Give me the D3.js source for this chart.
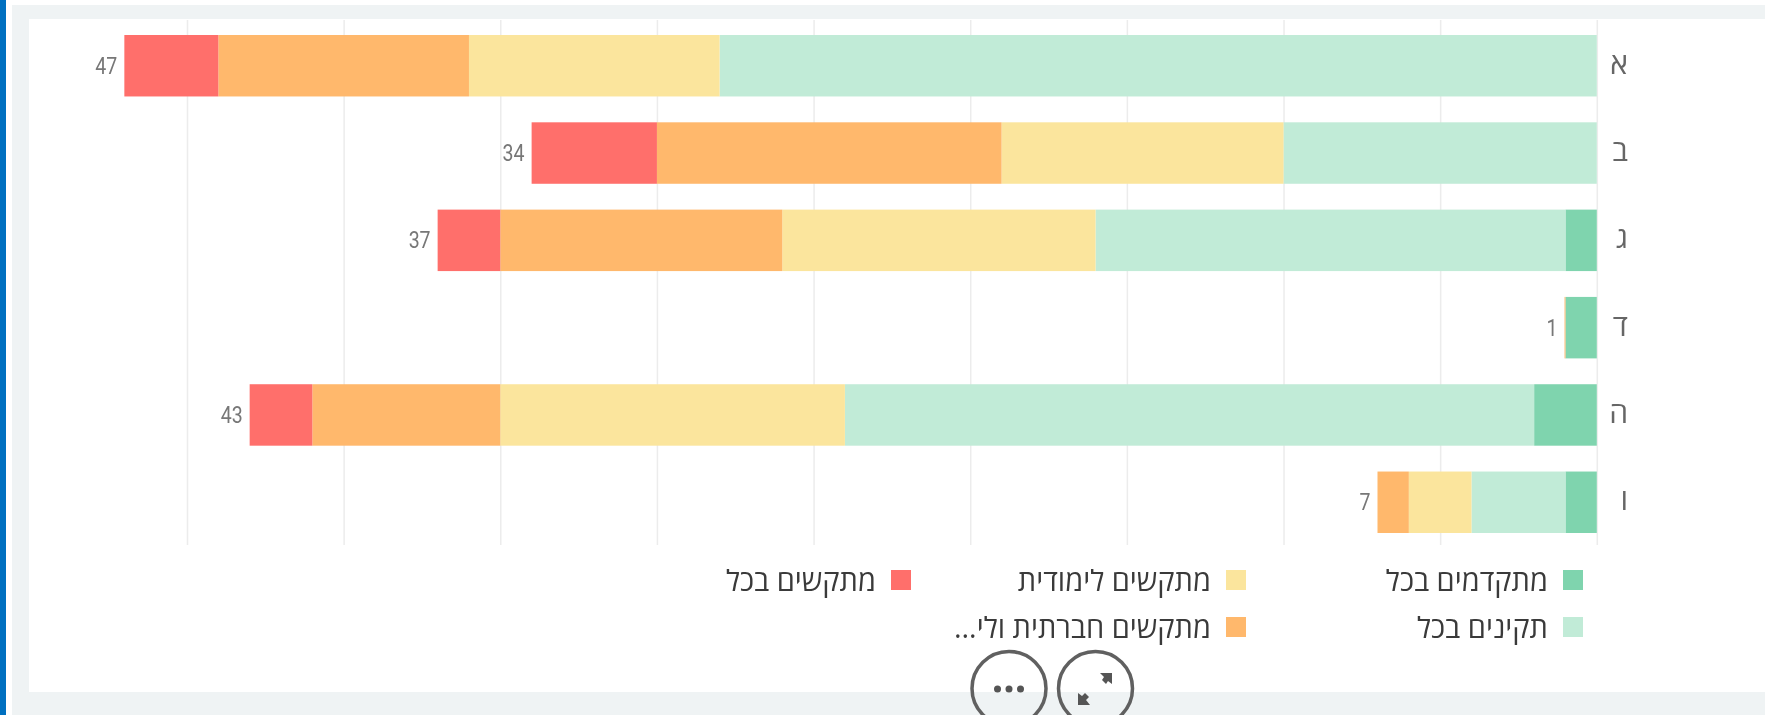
<!DOCTYPE html>
<html lang="he">
<head>
<meta charset="utf-8">
<script src="https://cdn.jsdelivr.net/npm/d3@7"></script>
<style>
  html, body { margin: 0; padding: 0; background: #fff; overflow: hidden; }
  #svg { display: block; width: 1765px; height: 715px; filter: blur(0.5px); }
  .grid line { stroke: #ececec; stroke-width: 1.5; }
  .grid path { display: none; }
  .cat text { font-family: "Open Sans", sans-serif; font-size: 30px; fill: #666; }
  .total { font-family: "Roboto", sans-serif; font-size: 23px; fill: #777; }
  .legend text { font-family: "Open Sans", sans-serif; font-size: 29px; fill: #3a3a3a; }
</style>
</head>
<body>
<svg id="svg" width="1765" height="715"></svg>
<script>
var categories = ['א', 'ב', 'ג', 'ד', 'ה', 'ו'];
var seriesNames = ['מתקדמים בכל', 'תקינים בכל', 'מתקשים לימודית', 'מתקשים חברתית ולי…', 'מתקשים בכל'];
var seriesColors = ['#7fd4ae', '#c1ebd7', '#fbe59d', '#ffb86c', '#ff6f6b'];

var advanced = [0, 0, 1, 1, 2, 1];
var regular = [28, 10, 15, 0, 22, 3];
var academic = [8, 9, 10, 0, 11, 2];
var social = [8, 11, 9, 0.03, 6, 1];
var struggling = [3, 4, 2, 0, 2, 0];

var gridTicks = [0, 5, 10, 15, 20, 25, 30, 35, 40, 45];

var svg;
var x;
var y;

document.addEventListener('DOMContentLoaded', function() {
    svg = d3.select('#svg');

    x = d3.scaleLinear().domain([0, 45]).range([1596.8, 187]);
    y = d3.scaleBand().domain(categories).range([35, 533]).paddingInner(0.296);

    drawFrame();
    drawGrid();
    drawBars();
    drawLegend();
    drawButtons();
})

function drawFrame() {
    // grey page behind the white card, blue strip on the far left
    svg.append('rect').attr('x', 0).attr('y', 0).attr('width', 1765).attr('height', 715).attr('fill', '#fff');
    svg.append('rect').attr('x', 12).attr('y', 5).attr('width', 1753).attr('height', 710).attr('fill', '#eff3f4');
    svg.append('rect').attr('x', 29).attr('y', 19).attr('width', 1736).attr('height', 673).attr('fill', '#fff');
    svg.append('rect').attr('x', 0).attr('y', 0).attr('width', 6).attr('height', 715).attr('fill', '#0070c0');
}

function drawGrid() {
    let axis = d3.axisBottom(x).tickValues(gridTicks).tickSize(525).tickFormat('');
    svg.append('g')
       .attr('class', 'grid')
       .attr('transform', 'translate(0,20)')
       .call(axis);
}

function drawBars() {
    let rows = categories.map(function(c, i) {
        return { cat: c, a: advanced[i], b: regular[i], c: academic[i], d: social[i], e: struggling[i] };
    });
    let keys = ['a', 'b', 'c', 'd', 'e'];
    let stacked = d3.stack().keys(keys)(rows);

    svg.selectAll('g.layer')
       .data(stacked)
       .enter()
       .append('g')
       .attr('class', 'layer')
       .attr('fill', function(d, i) { return seriesColors[i]; })
       .selectAll('rect')
       .data(function(d) { return d; })
       .enter()
       .append('rect')
       .attr('x', function(d) { return x(d[1]); })
       .attr('y', function(d) { return y(d.data.cat); })
       .attr('width', function(d) { return x(d[0]) - x(d[1]); })
       .attr('height', y.bandwidth());

    // totals at the end of each bar, squeezed since the original font is narrow
    svg.selectAll('text.total')
       .data(rows)
       .enter()
       .append('text')
       .attr('class', 'total')
       .attr('text-anchor', 'end')
       .attr('x', function(d) { return x(d.a + d.b + d.c + d.d + d.e) - 7; })
       .attr('y', function(d) { return y(d.cat) + y.bandwidth() / 2 + 8; })
       .attr('textLength', function(d) { return String(Math.round(d.a + d.b + d.c + d.d + d.e)).length * 11; })
       .attr('lengthAdjust', 'spacingAndGlyphs')
       .text(function(d) { return Math.round(d.a + d.b + d.c + d.d + d.e); });

    let cat = svg.append('g').attr('class', 'cat');
    cat.selectAll('text')
       .data(categories)
       .enter()
       .append('text')
       .attr('x', 1628)
       .attr('text-anchor', 'end')
       .attr('y', function(d) { return y(d) + y.bandwidth() / 2 + 8; })
       .text(function(d) { return d; });
}

function drawLegend() {
    let spots = [[1563, 570], [1563, 617], [1226, 570], [1226, 617], [891, 570]];
    let g = svg.append('g').attr('class', 'legend');
    seriesNames.forEach(function(name, i) {
        g.append('rect')
         .attr('x', spots[i][0]).attr('y', spots[i][1])
         .attr('width', 20).attr('height', 20)
         .attr('fill', seriesColors[i]);
        g.append('text')
         .attr('x', spots[i][0] - 15)
         .attr('y', spots[i][1] + 21)
         .attr('text-anchor', 'start')
         .attr('direction', 'rtl')
         .text(name);
    });
}

function drawButtons() {
    [1009, 1095.5].forEach(function(cx) {
        svg.append('circle')
           .attr('cx', cx).attr('cy', 688.5).attr('r', 37)
           .attr('fill', 'none').attr('stroke', '#606060').attr('stroke-width', 3.5);
    });
    [997.5, 1009, 1020.5].forEach(function(cx) {
        svg.append('circle').attr('cx', cx).attr('cy', 689).attr('r', 3.5).attr('fill', '#555');
    });
    // expand icon
    svg.append('path').attr('fill', '#555').attr('d', 'M1100 673h12v11l-4-3-2 3-4-4 2-3z');
    svg.append('path').attr('fill', '#555').attr('d', 'M1078 705v-12l4 3 3-3 4 4-3 3 4 5z');
}
</script>
</body>
</html>
